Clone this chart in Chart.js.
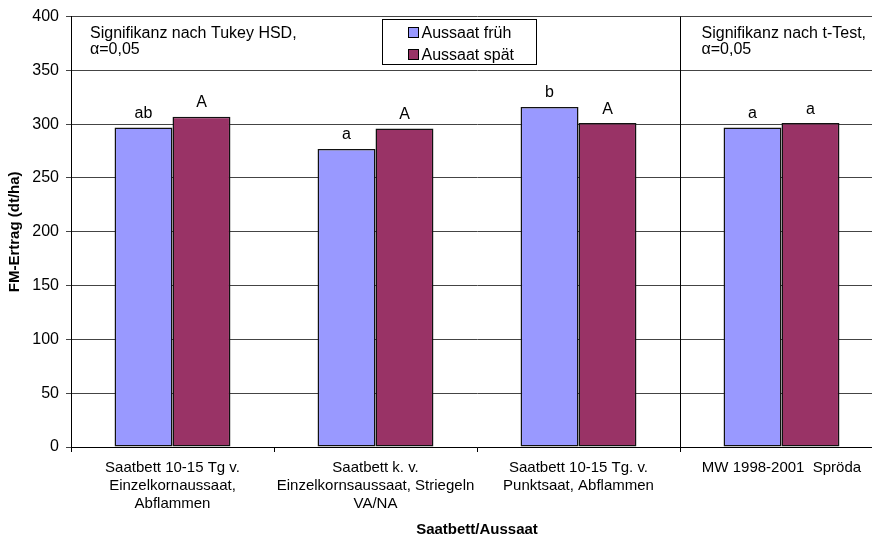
<!DOCTYPE html>
<html>
<head>
<meta charset="utf-8">
<script src="https://cdn.jsdelivr.net/npm/chart.js@4/dist/chart.umd.min.js"></script>
<style>
  html, body { margin: 0; padding: 0; background: #fff; overflow: hidden; }
  #wrap { width: 884px; height: 540px; }
</style>
</head>
<body>
<div id="wrap"><canvas id="myChart" width="884" height="540"></canvas></div>
<script>
// Kategorien (x-Achse)
const categories = [
    ['Saatbett 10-15 Tg v.', 'Einzelkornaussaat,', 'Abflammen'],
    ['Saatbett k. v.', 'Einzelkornsaussaat, Striegeln', 'VA/NA'],
    ['Saatbett 10-15 Tg. v.', 'Punktsaat, Abflammen'],
    'MW 1998-2001  Spröda'
];
// FM-Ertrag (dt/ha)
const aussaatFrueh = [297, 277, 316, 297];
const aussaatSpaet = [307, 296, 301, 301];
// Signifikanz-Buchstaben
const sigFrueh = ['ab', 'a', 'b', 'a'];
const sigSpaet = ['A', 'A', 'A', 'a'];
const yTicks = [0, 50, 100, 150, 200, 250, 300, 350, 400];

const FONT = '"Liberation Sans", Arial, sans-serif';

// Buchstaben über den Balken, Trennlinie, Hinweistexte und Legende
const extras = {
    id: 'extras',
    afterDatasetsDraw(chart) {
        const ctx = chart.ctx;
        const area = chart.chartArea;
        const x = chart.scales.x;
        const letters = [sigFrueh, sigSpaet];
        ctx.save();
        ctx.fillStyle = '#000';
        ctx.font = '16px ' + FONT;
        ctx.textAlign = 'center';
        ctx.textBaseline = 'middle';
        letters.forEach(function(arr, di) {
            chart.getDatasetMeta(di).data.forEach(function(bar, i) {
                ctx.fillText(arr[i], bar.x, bar.y - 14);
            });
        });

        // Trennlinie zwischen t-Test und Tukey
        const sepX = Math.round((x.getPixelForValue(2) + x.getPixelForValue(3)) / 2) + 0.5;
        ctx.strokeStyle = '#000';
        ctx.lineWidth = 1;
        ctx.beginPath();
        ctx.moveTo(sepX, area.top);
        ctx.lineTo(sepX, area.bottom + 5);
        ctx.stroke();

        // Hinweistexte
        ctx.textAlign = 'left';
        ctx.fillText('Signifikanz nach Tukey HSD,', area.left + 19, area.top + 17);
        ctx.fillText('\u03b1=0,05', area.left + 19, area.top + 33);
        ctx.fillText('Signifikanz nach t-Test,', sepX + 21, area.top + 17);
        ctx.fillText('\u03b1=0,05', sepX + 21, area.top + 33);

        // Legende
        const lx = 382.5, ly = 19.5, lw = 154, lh = 45;
        ctx.fillStyle = '#fff';
        ctx.fillRect(lx, ly, lw, lh);
        ctx.strokeRect(lx, ly, lw, lh);
        const items = [
            [chart.data.datasets[0].label, chart.data.datasets[0].backgroundColor],
            [chart.data.datasets[1].label, chart.data.datasets[1].backgroundColor]
        ];
        items.forEach(function(it, i) {
            const cy = ly + 13 + i * 22;
            ctx.fillStyle = it[1];
            ctx.fillRect(lx + 26, cy - 5, 10, 10);
            ctx.strokeRect(lx + 26, cy - 5, 10, 10);
            ctx.fillStyle = '#000';
            ctx.fillText(it[0], lx + 39, cy + 1);
        });
        ctx.restore();
    }
};

let ctx = document.getElementById('myChart').getContext('2d');
let chart = new Chart(ctx, {
    type: 'bar',
    data: {
        labels: categories,
        datasets: [{
            label: 'Aussaat früh',
            data: aussaatFrueh,
            backgroundColor: '#9999FF',
            borderColor: '#111',
            borderWidth: 1.5,
            borderSkipped: false
        }, {
            label: 'Aussaat spät',
            data: aussaatSpaet,
            backgroundColor: '#993366',
            borderColor: '#111',
            borderWidth: 1.5,
            borderSkipped: false
        }]
    },
    options: {
        responsive: false,
        animation: false,
        layout: { padding: { top: 15, right: 1, left: 0, bottom: 0 } },
        categoryPercentage: 0.571,
        barPercentage: 1,
        plugins: {
            legend: { display: false },
            tooltip: { enabled: false }
        },
        scales: {
            x: {
                grid: { drawOnChartArea: false, tickLength: 5, color: '#000', offset: true },
                border: { color: '#000' },
                ticks: {
                    color: '#000',
                    font: { family: FONT, size: 15, lineHeight: 1.2 },
                    padding: 7,
                    maxRotation: 0,
                    autoSkip: false
                },
                title: {
                    display: true,
                    text: 'Saatbett/Aussaat',
                    color: '#000',
                    font: { family: FONT, size: 15, weight: 'bold', lineHeight: 1.2 },
                    padding: { top: 0, bottom: 1 }
                },
                afterFit: function(scale) { scale.height = 93; }
            },
            y: {
                min: 0,
                max: 400,
                afterBuildTicks: function(scale) {
                    scale.ticks = yTicks.map(function(v) { return { value: v }; });
                },
                grid: { color: '#444', tickLength: 5 },
                border: { color: '#000' },
                ticks: {
                    color: '#000',
                    font: { family: FONT, size: 16 },
                    padding: 7
                },
                title: {
                    display: true,
                    text: 'FM-Ertrag (dt/ha)',
                    color: '#000',
                    font: { family: FONT, size: 15, weight: 'bold', lineHeight: 1.2 },
                    padding: { top: 6, bottom: 0 }
                },
                afterFit: function(scale) { scale.width = 71; }
            }
        }
    },
    plugins: [extras]
});
</script>
</body>
</html>
